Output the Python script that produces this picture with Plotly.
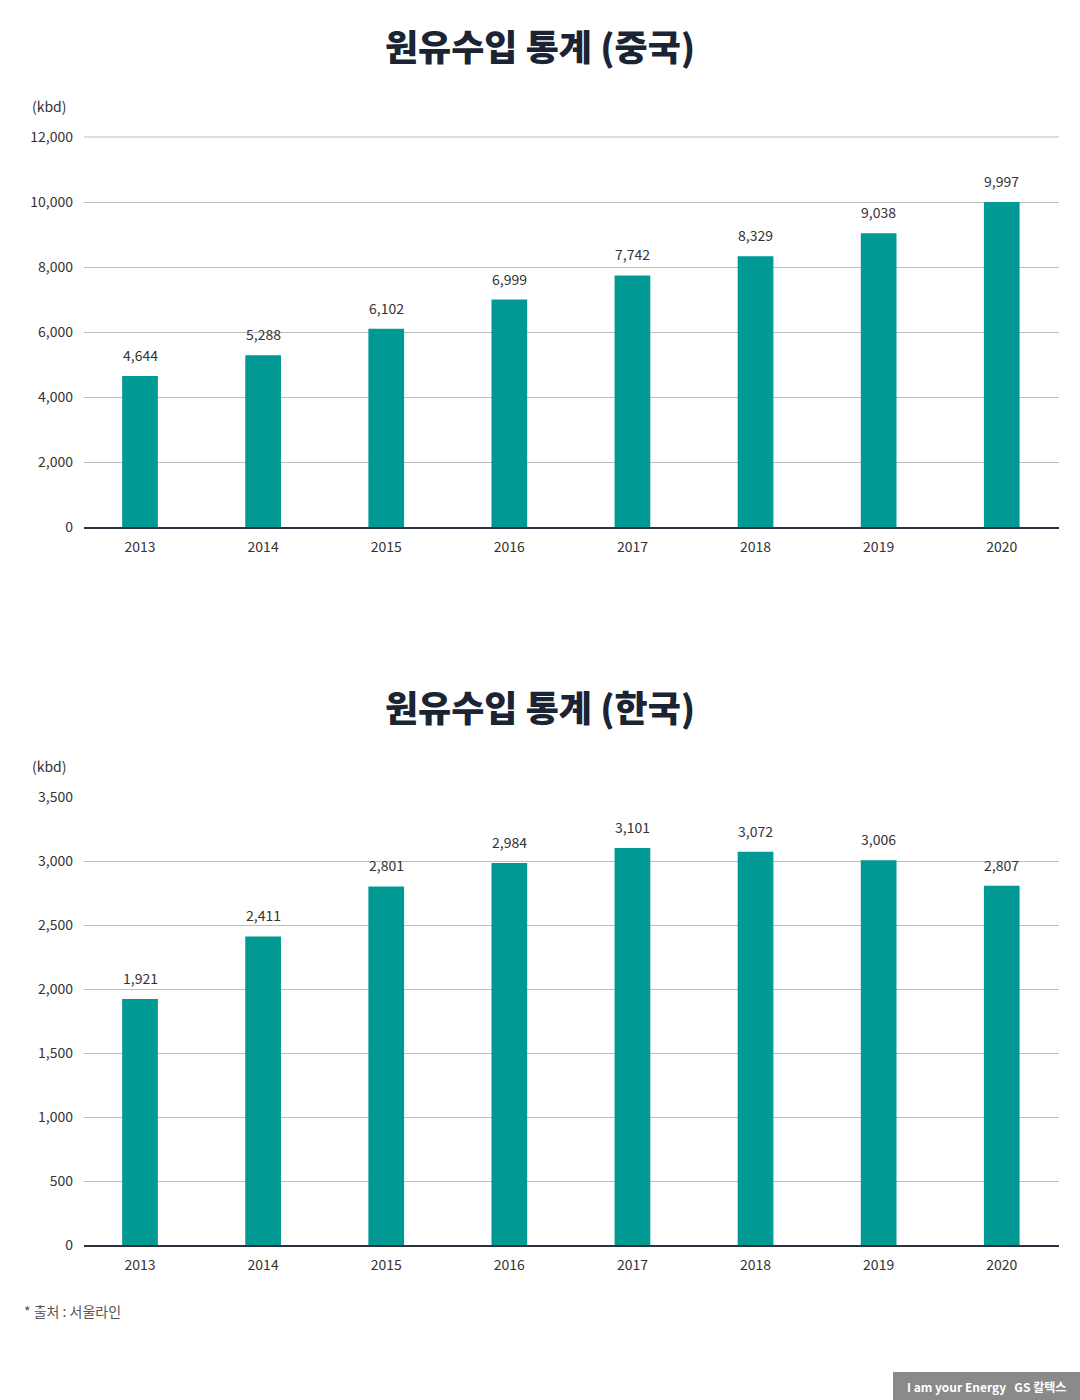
import plotly.graph_objects as go
from plotly.subplots import make_subplots

years = ["2013", "2014", "2015", "2016", "2017", "2018", "2019", "2020"]
china = [4644, 5288, 6102, 6999, 7742, 8329, 9038, 9997]
korea = [1921, 2411, 2801, 2984, 3101, 3072, 3006, 2807]
china_ticks = [0, 2000, 4000, 6000, 8000, 10000, 12000]
korea_ticks = [0, 500, 1000, 1500, 2000, 2500, 3000, 3500]
title_china = "원유수입 통계 (중국)"
title_korea = "원유수입 통계 (한국)"
unit = "(kbd)"
source = "* 출처 : 서울라인"

W, H = 1080, 1400
BAR = "#009993"
DARK = "#1b2433"
TXT = "#333333"
FONT = "Noto Sans CJK KR"

fig = make_subplots(rows=2, cols=1)

anns = []
for row, vals in ((1, china), (2, korea)):
    fig.add_trace(go.Bar(
        x=years, y=vals, marker=dict(color=BAR, line=dict(width=0)),
        showlegend=False, hoverinfo="skip",
    ), row=row, col=1)
    xr = "x" if row == 1 else "x2"
    yr = "y" if row == 1 else "y2"
    for i, v in enumerate(vals):
        anns.append(dict(x=i, y=v, xref=xr, yref=yr, text=f"{v:,}", showarrow=False,
                         yshift=21, xanchor="center", yanchor="middle",
                         font=dict(size=14, color=TXT, family=FONT)))

def px_y(p):
    return 1 - p / H

xdom = [84 / W, 1059 / W]
fig.update_layout(
    width=W, height=H, margin=dict(l=0, r=0, t=0, b=0, autoexpand=False),
    paper_bgcolor="white", plot_bgcolor="white",
    bargap=0.71, font=dict(family=FONT, color=TXT, size=14),
    xaxis=dict(domain=xdom, anchor="y"),
    xaxis2=dict(domain=xdom, anchor="y2"),
    yaxis=dict(domain=[px_y(527), px_y(137)], anchor="x"),
    yaxis2=dict(domain=[px_y(1245), px_y(797)], anchor="x2"),
)

for ax in ("xaxis", "xaxis2"):
    fig.layout[ax].update(type="category", categoryorder="array", categoryarray=years,
                          range=[-0.455, 7.465], autorange=False,
                          showline=True, linecolor="#2b3440", linewidth=2,
                          showgrid=False, ticks="", ticklen=0, automargin=False,
                          ticklabelstandoff=6,
                          tickfont=dict(size=14, color=TXT, family=FONT), fixedrange=True)

fig.layout.yaxis.update(range=[0, 12000], tickvals=china_ticks,
                        ticktext=[f"{v:,}" for v in china_ticks])
fig.layout.yaxis2.update(range=[0, 3500], tickvals=korea_ticks,
                         ticktext=[f"{v:,}" for v in korea_ticks])
for ax in ("yaxis", "yaxis2"):
    fig.layout[ax].update(showgrid=True, gridcolor="#bdbdbd", gridwidth=1, autorange=False,
                          zeroline=False, showline=False, ticks="", automargin=False,
                          ticklabelstandoff=10,
                          tickfont=dict(size=14, color=TXT, family=FONT), fixedrange=True)

anns += [
    dict(text=title_china, x=0.5, y=px_y(45), xref="paper", yref="paper",
         showarrow=False, font=dict(size=36, color=DARK, family=FONT, weight=900),
         xanchor="center", yanchor="middle"),
    dict(text=title_korea, x=0.5, y=px_y(706), xref="paper", yref="paper",
         showarrow=False, font=dict(size=36, color=DARK, family=FONT, weight=900),
         xanchor="center", yanchor="middle"),
    dict(text=unit, x=30 / W, y=px_y(106), xref="paper", yref="paper", showarrow=False,
         font=dict(size=14, color=TXT, family=FONT), xanchor="left", yanchor="middle"),
    dict(text=unit, x=30 / W, y=px_y(766), xref="paper", yref="paper", showarrow=False,
         font=dict(size=14, color=TXT, family=FONT), xanchor="left", yanchor="middle"),
    dict(text=source, x=22 / W, y=px_y(1311), xref="paper", yref="paper", showarrow=False,
         font=dict(size=14, color="#555555", family=FONT), xanchor="left", yanchor="middle"),
    dict(text="<b>I am your Energy</b>   <b>GS 칼텍스</b>", x=986 / W, y=px_y(1386), xref="paper", yref="paper",
         showarrow=False, font=dict(size=12, color="white", family=FONT),
         xanchor="center", yanchor="middle"),
]
fig.update_layout(annotations=anns)
fig.add_shape(type="rect", xref="paper", yref="paper", x0=893 / W, x1=1.0,
              y0=px_y(1400), y1=px_y(1372), fillcolor="#8a8a8a", line=dict(width=0), layer="above")
fig.add_shape(type="line", xref="paper", yref="paper", x0=xdom[0], x1=xdom[1],
              y0=px_y(137), y1=px_y(137), line=dict(color="#bdbdbd", width=1), layer="below")

fig.write_html("out.html", config={"displayModeBar": False},
               post_script="document.body.style.margin='0';")
